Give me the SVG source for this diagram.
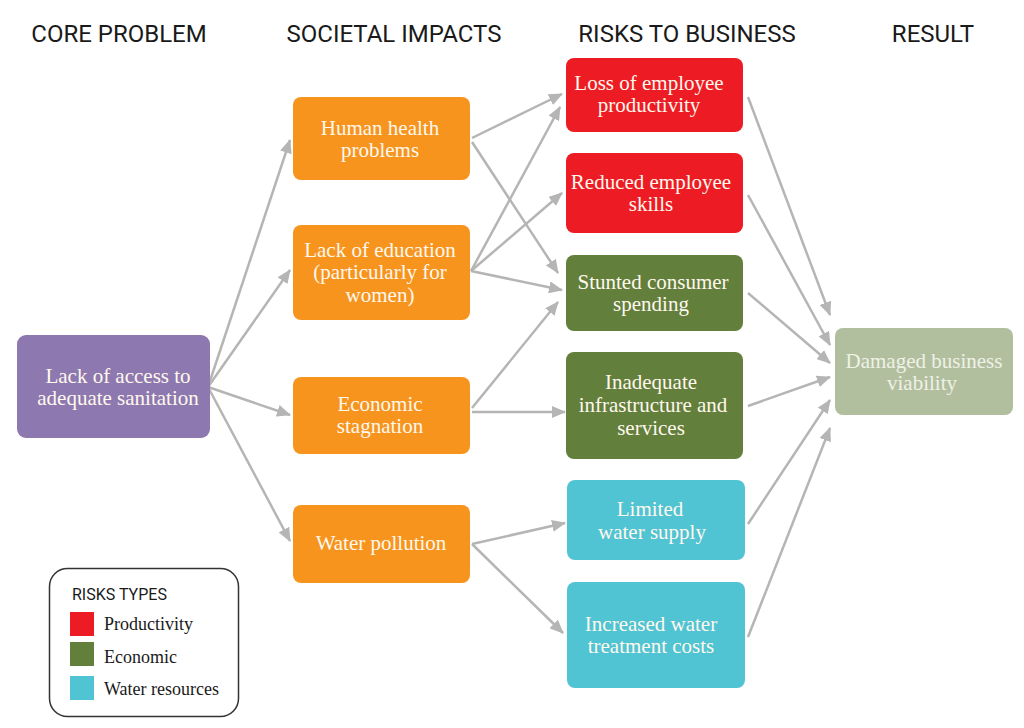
<svg xmlns="http://www.w3.org/2000/svg" width="1024" height="728" viewBox="0 0 1024 728">
<style>
.hdr{font-family:Roboto,"Liberation Sans",sans-serif;font-size:24px;fill:#1a1a1a;text-anchor:middle}
.nt{font-family:"Liberation Serif","Times New Roman",serif;font-size:21px;fill:#fff8ee;text-anchor:middle}
.dt{font-family:"Liberation Serif","Times New Roman",serif;font-size:21px;fill:#eef1e6;text-anchor:middle}
.lt{font-family:"Liberation Serif","Times New Roman",serif;font-size:18px;fill:#1a1a1a}
.lh{font-family:Roboto,"Liberation Sans",sans-serif;font-size:16px;fill:#1a1a1a}
.con line{stroke:#b5b5b5;stroke-width:2.5;marker-end:url(#ah)}
.purple{fill:#8e78b0}.orange{fill:#f7941d}.red{fill:#ed1c24}.green{fill:#627f3c}.cyan{fill:#50c4d3}.sage{fill:#b2bf9f}
</style>
<defs>
<marker id="ah" markerUnits="userSpaceOnUse" markerWidth="14" markerHeight="12" refX="13" refY="6" orient="auto">
<path d="M0,0 L14,6 L0,12 z" fill="#b5b5b5"/>
</marker>
</defs>
<rect width="1024" height="728" fill="#ffffff"/>
<g id="headers">
<text class="hdr" x="119" y="42">CORE PROBLEM</text>
<text class="hdr" x="394" y="42">SOCIETAL IMPACTS</text>
<text class="hdr" x="687" y="42">RISKS TO BUSINESS</text>
<text class="hdr" x="933" y="42">RESULT</text>
</g>
<g id="connectors" class="con">
<line x1="208" y1="387" x2="290" y2="140"/>
<line x1="208" y1="387" x2="290" y2="270"/>
<line x1="208" y1="387" x2="290" y2="415"/>
<line x1="208" y1="387" x2="290" y2="541"/>
<line x1="472" y1="138" x2="562" y2="94"/>
<line x1="472" y1="142" x2="558" y2="273"/>
<line x1="471" y1="271" x2="560" y2="107"/>
<line x1="471" y1="271" x2="562" y2="193"/>
<line x1="471" y1="271" x2="562" y2="290"/>
<line x1="472" y1="408" x2="558" y2="302"/>
<line x1="472" y1="412" x2="565" y2="412"/>
<line x1="472" y1="544" x2="565" y2="523"/>
<line x1="472" y1="544" x2="563" y2="633"/>
<line x1="748" y1="97" x2="830" y2="315"/>
<line x1="748" y1="195" x2="830" y2="345"/>
<line x1="748" y1="293" x2="830" y2="363"/>
<line x1="748" y1="406" x2="830" y2="377"/>
<line x1="748" y1="524" x2="830" y2="400"/>
<line x1="748" y1="637" x2="830" y2="428"/>
</g>
<g id="core">
<rect class="purple" x="17" y="335" width="193" height="103" rx="9"/>
<text class="nt" x="118" y="383">Lack of access to</text>
<text class="nt" x="118" y="405">adequate sanitation</text>
</g>
<g id="health">
<rect class="orange" x="293" y="97" width="177" height="83" rx="8"/>
<text class="nt" x="380" y="135">Human health</text>
<text class="nt" x="380" y="157">problems</text>
</g>
<g id="education">
<rect class="orange" x="293" y="225" width="177" height="95" rx="8"/>
<text class="nt" x="380" y="257">Lack of education</text>
<text class="nt" x="380" y="279">(particularly for</text>
<text class="nt" x="380" y="302">women)</text>
</g>
<g id="economic">
<rect class="orange" x="293" y="377" width="177" height="77" rx="8"/>
<text class="nt" x="380" y="411">Economic</text>
<text class="nt" x="380" y="433">stagnation</text>
</g>
<g id="pollution">
<rect class="orange" x="293" y="505" width="177" height="78" rx="8"/>
<text class="nt" x="381" y="550">Water pollution</text>
</g>
<g id="productivity">
<rect class="red" x="566" y="58" width="177" height="74" rx="8"/>
<text class="nt" x="649" y="90">Loss of employee</text>
<text class="nt" x="649" y="112">productivity</text>
</g>
<g id="skills">
<rect class="red" x="566" y="153" width="177" height="80" rx="8"/>
<text class="nt" x="651" y="189">Reduced employee</text>
<text class="nt" x="651" y="211">skills</text>
</g>
<g id="spending">
<rect class="green" x="566" y="255" width="177" height="76" rx="8"/>
<text class="nt" x="653" y="289">Stunted consumer</text>
<text class="nt" x="651" y="311">spending</text>
</g>
<g id="infrastructure">
<rect class="green" x="566" y="352" width="177" height="107" rx="8"/>
<text class="nt" x="651" y="389">Inadequate</text>
<text class="nt" x="653" y="412">infrastructure and</text>
<text class="nt" x="651" y="435">services</text>
</g>
<g id="water-supply">
<rect class="cyan" x="567" y="480" width="178" height="80" rx="8"/>
<text class="nt" x="650" y="516">Limited</text>
<text class="nt" x="652" y="539">water supply</text>
</g>
<g id="treatment">
<rect class="cyan" x="567" y="582" width="178" height="106" rx="8"/>
<text class="nt" x="651" y="631">Increased water</text>
<text class="nt" x="651" y="653">treatment costs</text>
</g>
<g id="result">
<rect class="sage" x="835" y="328" width="178" height="87" rx="8"/>
<text class="dt" x="924" y="368">Damaged business</text>
<text class="dt" x="922" y="390">viability</text>
</g>
<g id="legend">
<rect x="49.5" y="568.5" width="189" height="148" rx="18" fill="#ffffff" stroke="#333333" stroke-width="1.5"/>
<text class="lh" x="72" y="600">RISKS TYPES</text>
<rect class="red" x="70" y="612" width="24" height="24"/>
<text class="lt" x="104" y="630">Productivity</text>
<rect class="green" x="70" y="642" width="24" height="24"/>
<text class="lt" x="104" y="663">Economic</text>
<rect class="cyan" x="70" y="676" width="24" height="24"/>
<text class="lt" x="104" y="695">Water resources</text>
</g>
</svg>
